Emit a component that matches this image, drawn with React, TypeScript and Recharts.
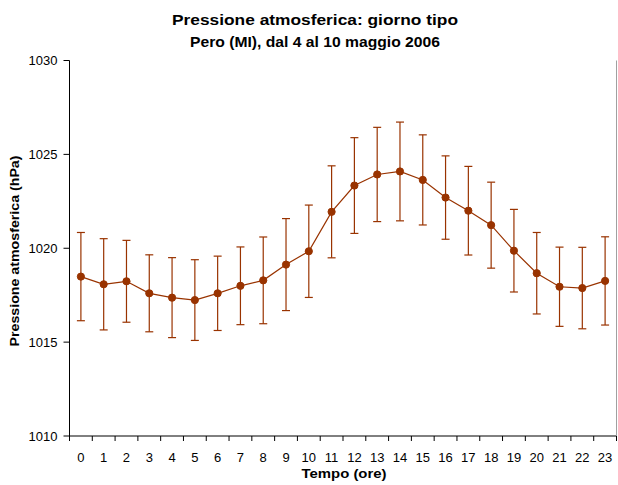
import React from 'react';
import { LineChart, Line, XAxis, YAxis, ErrorBar } from 'recharts';

const hours: number[] = [0, 1, 2, 3, 4, 5, 6, 7, 8, 9, 10, 11, 12, 13, 14, 15, 16, 17, 18, 19, 20, 21, 22, 23];
const meanPressure: number[] = [
  1018.49, 1018.08, 1018.24, 1017.6, 1017.37, 1017.24, 1017.6, 1018.0, 1018.29, 1019.13, 1019.84, 1021.94,
  1023.34, 1023.93, 1024.09, 1023.64, 1022.7, 1022.0, 1021.23, 1019.87, 1018.67, 1017.95, 1017.88, 1018.26,
];
const stdDev: number[] = [
  2.35, 2.43, 2.18, 2.05, 2.13, 2.15, 1.98, 2.07, 2.31, 2.45, 2.46, 2.45,
  2.55, 2.51, 2.63, 2.4, 2.22, 2.36, 2.29, 2.2, 2.17, 2.11, 2.17, 2.35,
];
const yTicks: number[] = [1010, 1015, 1020, 1025, 1030];
const boundaryTicks: number[] = [-0.5, ...hours.map((h) => h + 0.5)];
const allXTicks: number[] = [...boundaryTicks, ...hours].sort((a, b) => a - b);

const title1 = 'Pressione atmosferica: giorno tipo';
const title2 = 'Pero (MI), dal 4 al 10 maggio 2006';
const xTitle = 'Tempo (ore)';
const yTitle = 'Pressione atmosferica (hPa)';

const data = hours.map((h, i) => ({ hour: h, value: meanPressure[i], err: stdDev[i] }));

const FONT = '"Liberation Sans", Arial, sans-serif';
const COLOR = '#993300';

const XTick = (props: any) => {
  const { x, y, payload } = props;
  const v = Number(payload.value);
  if (!Number.isInteger(v)) {
    return <line x1={x} x2={x} y1={y} y2={y + 5} stroke="#000" strokeWidth={1} />;
  }
  return (
    <text x={x} y={y + 25.5} textAnchor="middle" fontSize={13} fontFamily={FONT} fill="#000">
      {v}
    </text>
  );
};

export default function App() {
  return (
    <div style={{ position: 'absolute', left: 0, top: 0, width: 618, height: 485, background: '#fff' }}>
      <LineChart width={618} height={485} data={data} margin={{ top: 60.5, right: 0.5, bottom: 0, left: 0 }}>
        <XAxis
          xAxisId="x"
          dataKey="hour"
          type="number"
          domain={[-0.5, 23.5]}
          ticks={allXTicks}
          interval={0}
          height={49}
          axisLine={{ stroke: '#000', strokeWidth: 1 }}
          tickLine={false}
          tickSize={0}
          tickMargin={0}
          tick={<XTick />}
        />
        <XAxis
          xAxisId="t"
          orientation="top"
          dataKey="hour"
          type="number"
          domain={[-0.5, 23.5]}
          height={0}
          tick={false}
          tickLine={false}
          axisLine={{ stroke: '#222' }}
        />
        <YAxis
          yAxisId="l"
          type="number"
          domain={[1010, 1030]}
          ticks={yTicks}
          interval={0}
          width={69.5}
          axisLine={{ stroke: '#000' }}
          tickLine={{ stroke: '#000' }}
          tickSize={6}
          tickMargin={6}
          tick={{ fontSize: 13, fontFamily: FONT, fill: '#000' }}
        />
        <YAxis
          yAxisId="r"
          orientation="right"
          type="number"
          domain={[1010, 1030]}
          width={1}
          tick={false}
          tickLine={false}
          axisLine={{ stroke: '#a0a0a0' }}
        />
        <Line
          xAxisId="x"
          yAxisId="l"
          dataKey="value"
          stroke={COLOR}
          strokeWidth={1.2}
          dot={{ r: 3.6, fill: COLOR, stroke: COLOR, strokeWidth: 1 }}
          isAnimationActive={false}
        >
          <ErrorBar dataKey="err" direction="y" width={4} stroke={COLOR} strokeWidth={1.2} isAnimationActive={false} />
        </Line>
      </LineChart>
      <svg
        width={618}
        height={485}
        style={{ position: 'absolute', left: 0, top: 0, pointerEvents: 'none' }}
      >
        <text x={315} y={25} textAnchor="middle" fontSize={15.5} fontWeight="bold" fontFamily={FONT} textLength={286} lengthAdjust="spacingAndGlyphs">
          {title1}
        </text>
        <text x={315} y={47} textAnchor="middle" fontSize={14} fontWeight="bold" fontFamily={FONT} textLength={250} lengthAdjust="spacingAndGlyphs">
          {title2}
        </text>
        <text x={344} y={478} textAnchor="middle" fontSize={13} fontWeight="bold" fontFamily={FONT} textLength={85} lengthAdjust="spacingAndGlyphs">
          {xTitle}
        </text>
        <text
          x={0}
          y={0}
          transform="translate(18.5,251) rotate(-90)"
          textAnchor="middle"
          fontSize={13}
          fontWeight="bold"
          fontFamily={FONT}
          textLength={191}
          lengthAdjust="spacingAndGlyphs"
        >
          {yTitle}
        </text>
      </svg>
    </div>
  );
}
